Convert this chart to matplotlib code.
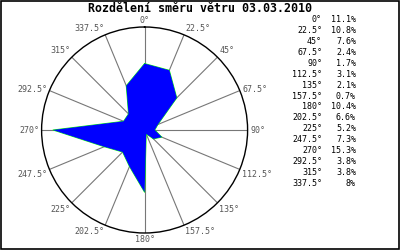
import numpy as np
import matplotlib
matplotlib.use("Agg")
import matplotlib.pyplot as plt
from matplotlib.patches import Rectangle

# wind direction distribution (percent of time per direction)
directions = [0, 22.5, 45, 67.5, 90, 112.5, 135, 157.5,
              180, 202.5, 225, 247.5, 270, 292.5, 315, 337.5]
shares = [11.1, 10.8, 7.6, 2.4, 1.7, 3.1, 2.1, 0.7,
          10.4, 6.6, 5.2, 7.3, 15.3, 3.8, 3.8, 8]
title = "Rozdělení směru větru 03.03.2010"

mono = "DejaVu Sans Mono"

fig = plt.figure(figsize=(4, 2.5), dpi=100)
ax = fig.add_axes([0.104, 0.068, 0.515, 0.824], projection="polar")
ax.set_theta_zero_location("N")
ax.set_theta_direction(-1)

theta = np.deg2rad(directions + [directions[0]])
r = np.array(shares + [shares[0]])
ax.plot(theta, r, color="#00ff00", lw=0.7, zorder=2)
ax.fill(theta, r, color="#0000ff", lw=0, zorder=3)

rmax = max(shares) * 1.125
ax.set_ylim(0, rmax)
ax.set_yticks([])
ax.set_xticks(np.deg2rad(directions))
ax.set_xticklabels([])
ax.grid(True, color="#777777", lw=0.8)
ax.spines["polar"].set_linewidth(1.0)
ax.spines["polar"].set_color("black")

# direction labels just outside the circle
for d in directions:
    t = np.deg2rad(d)
    dx, dy = np.sin(t), np.cos(t)
    ha = "left" if dx > 0.1 else ("right" if dx < -0.1 else "center")
    va = "bottom" if dy > 0.5 else ("center" if dy > -0.1 else "top")
    ax.annotate(f"{d:g}°", (t, rmax), xytext=(2.5 * dx, 2.5 * dy),
                textcoords="offset pixels", ha=ha, va=va, family=mono,
                fontsize=6, color="#555555", annotation_clip=False)

fig.text(0.5, 0.964, title, ha="center", va="center", family=mono,
         fontsize=8.4, fontweight="bold")

# list of values on the right
for i, (d, s) in enumerate(zip(directions, shares)):
    y = 1 - (20 + i * 10.87) / 250
    fig.text(322 / 400, y, f"{d:g}°", ha="right", va="center",
             family=mono, fontsize=6)
    fig.text(356 / 400, y, f"{s:g}%", ha="right", va="center",
             family=mono, fontsize=6)

fig.patches.append(Rectangle((0.5 / 400, 1.5 / 250), 398 / 400, 248 / 250,
                             transform=fig.transFigure, fill=False,
                             edgecolor="black", lw=1.2))

fig.savefig("out.png", dpi=100)
